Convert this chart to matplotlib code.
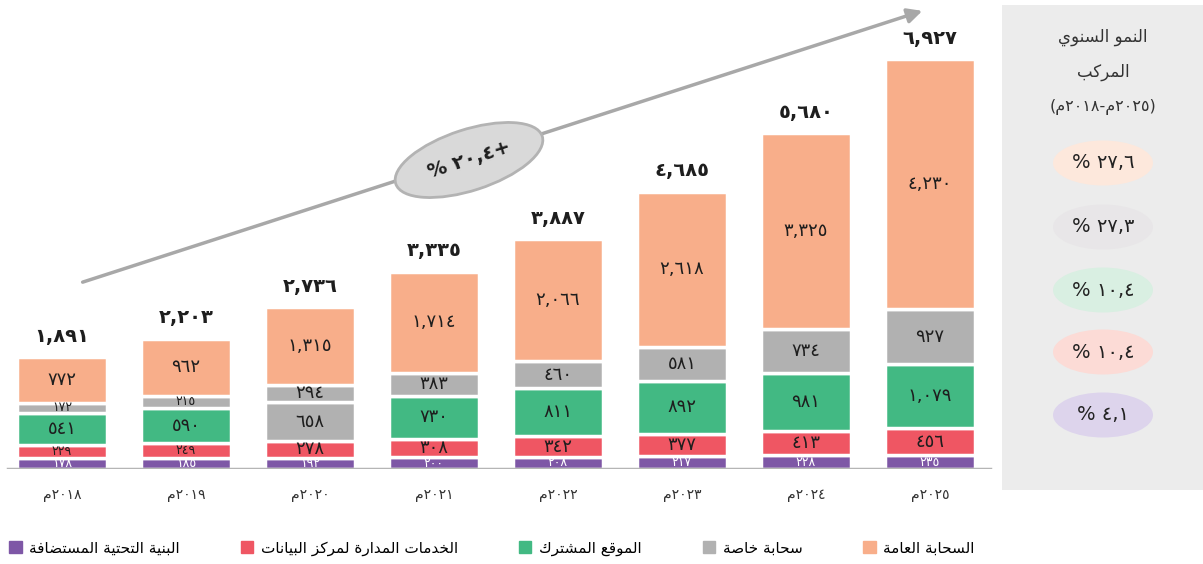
import matplotlib
matplotlib.use("Agg")
import matplotlib.pyplot as plt
from matplotlib.patches import Ellipse, Rectangle, FancyArrowPatch, Patch

# data (millions)
years = [2018, 2019, 2020, 2021, 2022, 2023, 2024, 2025]
hosted = [178, 185, 192, 200, 208, 217, 228, 235]
managed = [229, 249, 278, 308, 342, 377, 413, 456]
colocation = [541, 590, 658, 730, 811, 892, 981, 1079]
private = [172, 215, 294, 383, 460, 581, 734, 927]
public = [772, 962, 1315, 1714, 2066, 2618, 3325, 4230]
totals = [1891, 2203, 2736, 3335, 3887, 4685, 5680, 6927]

series_names = ["البنية التحتية المستضافة", "الخدمات المدارة لمركز البيانات",
                "الموقع المشترك", "سحابة خاصة", "السحابة العامة"]
cagr_values = ["27,6", "27,3", "10,4", "10,4", "4,1"]   # public, private, colo, managed, hosted
overall_cagr = "20,4"
cagr_title = ["النمو السنوي", "المركب"]

PURPLE = "#7e57a6"
RED = "#ef5663"
GREEN = "#42b983"
GREY = "#b1b1b1"
ORANGE = "#f8ae8a"
colors = [PURPLE, RED, GREEN, GREY, ORANGE]
pill_colors = ["#fde8dc", "#e8e6e8", "#d9efe2", "#fcdbd6", "#ddd4ec"]

# ---- tiny arabic shaper (matplotlib has no bidi / joining support) ----
DUAL = {'ب': 0xFE8F, 'ت': 0xFE95, 'ث': 0xFE99, 'ج': 0xFE9D, 'ح': 0xFEA1, 'خ': 0xFEA5,
        'س': 0xFEB1, 'ش': 0xFEB5, 'ص': 0xFEB9, 'ض': 0xFEBD, 'ط': 0xFEC1, 'ظ': 0xFEC5,
        'ع': 0xFEC9, 'غ': 0xFECD, 'ف': 0xFED1, 'ق': 0xFED5, 'ك': 0xFED9, 'ل': 0xFEDD,
        'م': 0xFEE1, 'ن': 0xFEE5, 'ه': 0xFEE9, 'ي': 0xFEF1}
RIGHT = {'ا': 0xFE8D, 'ة': 0xFE93, 'د': 0xFEA9, 'ذ': 0xFEAB, 'ر': 0xFEAD, 'ز': 0xFEAF,
         'و': 0xFEED, 'ى': 0xFEEF}


def shape(text):
    out = []
    for i, c in enumerate(text):
        if c not in DUAL and c not in RIGHT:
            out.append(c)
            continue
        prev = text[i - 1] if i > 0 else None
        nxt = text[i + 1] if i + 1 < len(text) else None
        jp = prev in DUAL
        jn = c in DUAL and (nxt in DUAL or nxt in RIGHT)
        base = DUAL.get(c, RIGHT.get(c))
        form = 3 if (jp and jn) else 1 if jp else 2 if jn else 0
        out.append(chr(base + form))
    return "".join(out)[::-1]


def ar(s):
    return str(s).translate(str.maketrans("0123456789", "٠١٢٣٤٥٦٧٨٩"))


plt.rcParams["font.family"] = ["DejaVu Sans"]
fig = plt.figure(figsize=(12.03, 5.64), dpi=100)
ax = fig.add_axes([0, 95 / 564, 1000 / 1203, 469 / 564])
ymax = 7920
ax.set_xlim(-0.5, 7.565)
ax.set_ylim(0, ymax)
ax.axis("off")
px_per_unit = 469 / ymax

x = list(range(len(years)))
stack = [hosted, managed, colocation, private, public]
# the source draws the 2020 co-location block in grey
seg_colors = [[c] * len(years) for c in colors]
seg_colors[2][2] = GREY

bottom = [0] * len(years)
for k, vals in enumerate(stack):
    ax.bar(x, vals, 0.72, bottom=bottom, color=seg_colors[k], edgecolor="white", linewidth=2.5, zorder=2)
    for i, v in enumerate(vals):
        fs = 13 if v * px_per_unit >= 16 else 9
        ax.text(i, bottom[i] + v / 2, ar(f"{v:,}"), ha="center", va="center", fontsize=fs,
                color="white" if k == 0 else "#1e1e1e", zorder=3)
    bottom = [b + v for b, v in zip(bottom, vals)]

for i, t in enumerate(totals):
    ax.annotate(ar(f"{t:,}"), (i, t), xytext=(0, 8), textcoords="offset points",
                ha="center", va="bottom", fontsize=14, fontweight="bold", color="#1e1e1e")
    ax.annotate("م" + ar(years[i]), (i, 0), xytext=(0, -19), textcoords="offset points",
                ha="center", va="center", fontsize=10, color="#333333")

ax.axhline(0, xmin=0.008, xmax=0.99, color="#b5b5b5", lw=2.5, zorder=4)

# growth arrow + ellipse
inch = fig.dpi_scale_trans
fig.patches.append(FancyArrowPatch((0.80, 2.81), (9.25, 5.54), transform=inch, arrowstyle="-|>",
                                   mutation_scale=22, lw=2.5, color="#a8a8a8"))
fig.patches.append(Ellipse((4.69, 4.04), 1.54, 0.61, angle=18, transform=inch,
                           facecolor="#d9d9d9", edgecolor="#b3b3b3", lw=2))
fig.text(4.69, 4.04, "% " + ar(overall_cagr) + "+", transform=inch, rotation=18, rotation_mode="anchor",
         ha="center", va="center", fontsize=14, fontweight="bold", color="#1e1e1e")

# right CAGR panel
fig.patches.append(Rectangle((10.02, 0.74), 2.01, 4.85, transform=inch, facecolor="#ececec", edgecolor="none"))
fig.text(11.03, 5.27, shape(cagr_title[0]), transform=inch, ha="center", va="center", fontsize=12, color="#333333")
fig.text(11.03, 4.92, shape(cagr_title[1]), transform=inch, ha="center", va="center", fontsize=12, color="#333333")
fig.text(11.03, 4.57, "(م" + ar(years[0]) + "-م" + ar(years[-1]) + ")", transform=inch,
         ha="center", va="center", fontsize=11.5, color="#333333")
pill_y = [4.01, 3.37, 2.74, 2.12, 1.49]
for y, val, pc in zip(pill_y, cagr_values, pill_colors):
    fig.patches.append(Ellipse((11.03, y), 1.0, 0.45, transform=inch, facecolor=pc, edgecolor="none"))
    fig.text(11.03, y, "% " + ar(val), transform=inch, ha="center", va="center", fontsize=14, color="#222222")

handles = [Patch(color=c, label=shape(n)) for c, n in zip(colors, series_names)]
fig.legend(handles=handles, loc="center left", bbox_to_anchor=(0.004, 16 / 564), ncol=5, frameon=False,
           fontsize=11, handlelength=0.8, handleheight=0.8, handletextpad=0.5, columnspacing=4.0,
           borderaxespad=0, borderpad=0.3)

fig.savefig("out.png", dpi=100)
